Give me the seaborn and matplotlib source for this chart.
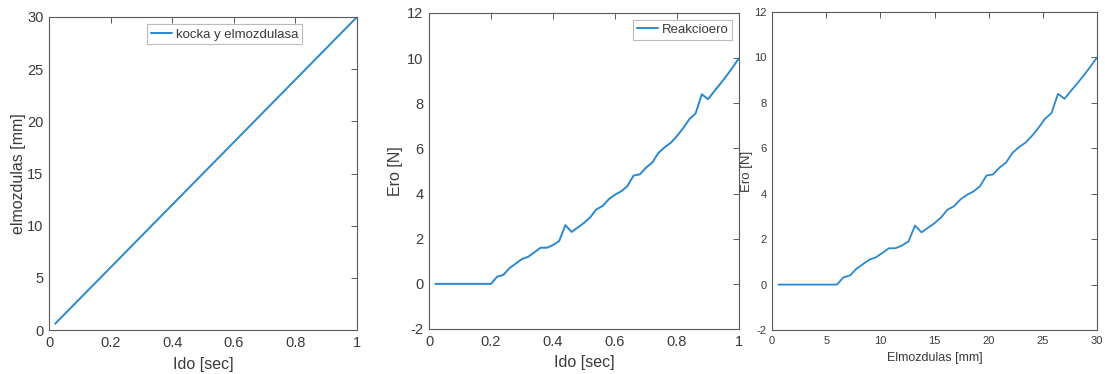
import numpy as np
import pandas as pd
import matplotlib
matplotlib.use("Agg")
import matplotlib.pyplot as plt
import seaborn as sns

# ---- data ----
ido = [0.02, 0.04, 0.06, 0.08, 0.10, 0.12, 0.14, 0.16, 0.18, 0.20,
       0.22, 0.24, 0.26, 0.28, 0.30, 0.32, 0.34, 0.36, 0.38, 0.40,
       0.42, 0.44, 0.46, 0.48, 0.50, 0.52, 0.54, 0.56, 0.58, 0.60,
       0.62, 0.64, 0.66, 0.68, 0.70, 0.72, 0.74, 0.76, 0.78, 0.80,
       0.82, 0.84, 0.86, 0.88, 0.90, 0.92, 0.94, 0.96, 0.98, 1.00]
elmozdulas = [0.6, 1.2, 1.8, 2.4, 3.0, 3.6, 4.2, 4.8, 5.4, 6.0,
              6.6, 7.2, 7.8, 8.4, 9.0, 9.6, 10.2, 10.8, 11.4, 12.0,
              12.6, 13.2, 13.8, 14.4, 15.0, 15.6, 16.2, 16.8, 17.4, 18.0,
              18.6, 19.2, 19.8, 20.4, 21.0, 21.6, 22.2, 22.8, 23.4, 24.0,
              24.6, 25.2, 25.8, 26.4, 27.0, 27.6, 28.2, 28.8, 29.4, 30.0]
ero = [0, 0, 0, 0, 0, 0, 0, 0, 0, 0,
       0.32, 0.40, 0.70, 0.90, 1.10, 1.20, 1.40, 1.60, 1.60, 1.72,
       1.90, 2.60, 2.30, 2.50, 2.70, 2.95, 3.30, 3.45, 3.75, 3.95,
       4.10, 4.33, 4.80, 4.85, 5.15, 5.37, 5.80, 6.05, 6.25, 6.55,
       6.90, 7.30, 7.55, 8.40, 8.18, 8.53, 8.87, 9.22, 9.60, 10.0]

df = pd.DataFrame({"ido": ido, "elmozdulas": elmozdulas, "ero": ero})

sns.set_style("white")
plt.rcParams["font.family"] = ["Liberation Sans", "DejaVu Sans"]
plt.rcParams["xtick.direction"] = "in"
plt.rcParams["ytick.direction"] = "in"
plt.rcParams["axes.unicode_minus"] = False

LINE = "#2a88cf"
AX = "#5a5a5a"
TXT = "#3a3a3a"

W, H = 1105, 374
fig = plt.figure(figsize=(W / 100, H / 100), dpi=100)


def add_ax(x0, x1, y0, y1):
    return fig.add_axes([x0 / W, 1 - y1 / H, (x1 - x0) / W, (y1 - y0) / H])


def style(ax, fs, fam=None):
    for s in ax.spines.values():
        s.set_color(AX)
        s.set_linewidth(0.8)
    ax.tick_params(axis="both", which="both", direction="in", top=True, right=True,
                   length=4, width=0.7, color=AX, labelsize=fs, labelcolor=TXT, pad=4)
    if fam:
        for lbl in ax.get_xticklabels() + ax.get_yticklabels():
            lbl.set_family(fam)


# panel 1
ax1 = add_ax(49, 357, 17, 330)
sns.lineplot(data=df, x="ido", y="elmozdulas", ax=ax1, color=LINE, lw=1.4,
             label="kocka y elmozdulasa")
ax1.set_xlim(0, 1)
ax1.set_ylim(0, 30)
ax1.set_xticks([0, 0.2, 0.4, 0.6, 0.8, 1])
ax1.set_xticklabels(["0", "0.2", "0.4", "0.6", "0.8", "1"])
ax1.set_yticks([0, 5, 10, 15, 20, 25, 30])
ax1.set_xlabel("Ido [sec]", fontsize=11.5, color=TXT, labelpad=5)
ax1.set_ylabel("elmozdulas [mm]", fontsize=11.5, color=TXT, labelpad=1)
style(ax1, 10.5)
leg = ax1.legend(loc="upper right", bbox_to_anchor=(0.83, 0.985), fontsize=9.5,
                 frameon=True, fancybox=False, handlelength=1.6, handletextpad=0.3,
                 borderpad=0.3, borderaxespad=0.2)
leg.get_frame().set_edgecolor("#aaaaaa")
leg.get_frame().set_linewidth(0.8)
for t in leg.get_texts():
    t.set_color(TXT)

# panel 2
ax2 = add_ax(429, 739, 13, 329)
sns.lineplot(data=df, x="ido", y="ero", ax=ax2, color=LINE, lw=1.4, label="Reakcioero")
ax2.set_xlim(0, 1)
ax2.set_ylim(-2, 12)
ax2.set_xticks([0, 0.2, 0.4, 0.6, 0.8, 1])
ax2.set_xticklabels(["0", "0.2", "0.4", "0.6", "0.8", "1"])
ax2.set_yticks([-2, 0, 2, 4, 6, 8, 10, 12])
ax2.set_xlabel("Ido [sec]", fontsize=11.5, color=TXT, labelpad=5)
ax2.set_ylabel("Ero [N]", fontsize=11.5, color=TXT, labelpad=3)
style(ax2, 10.5)
leg2 = ax2.legend(loc="upper right", fontsize=9.5, frameon=True, fancybox=False,
                  handlelength=1.6, handletextpad=0.3, borderpad=0.3, borderaxespad=0.5)
leg2.get_frame().set_edgecolor("#aaaaaa")
leg2.get_frame().set_linewidth(0.8)
for t in leg2.get_texts():
    t.set_color(TXT)

# panel 3
NARROW = ["Liberation Sans Narrow", "Liberation Sans", "DejaVu Sans"]
ax3 = add_ax(772, 1097, 12, 330)
sns.lineplot(data=df, x="elmozdulas", y="ero", ax=ax3, color=LINE, lw=1.3, legend=False)
ax3.set_xlim(0, 30)
ax3.set_ylim(-2, 12)
ax3.set_xticks([0, 5, 10, 15, 20, 25, 30])
ax3.set_yticks([-2, 0, 2, 4, 6, 8, 10, 12])
ax3.set_xlabel("Elmozdulas [mm]", fontsize=9, color=TXT, labelpad=5, family=NARROW)
ax3.set_ylabel("Ero [N]", fontsize=9.5, color=TXT, labelpad=1, family=NARROW)
style(ax3, 8, NARROW)

fig.savefig("out.png", dpi=100)
